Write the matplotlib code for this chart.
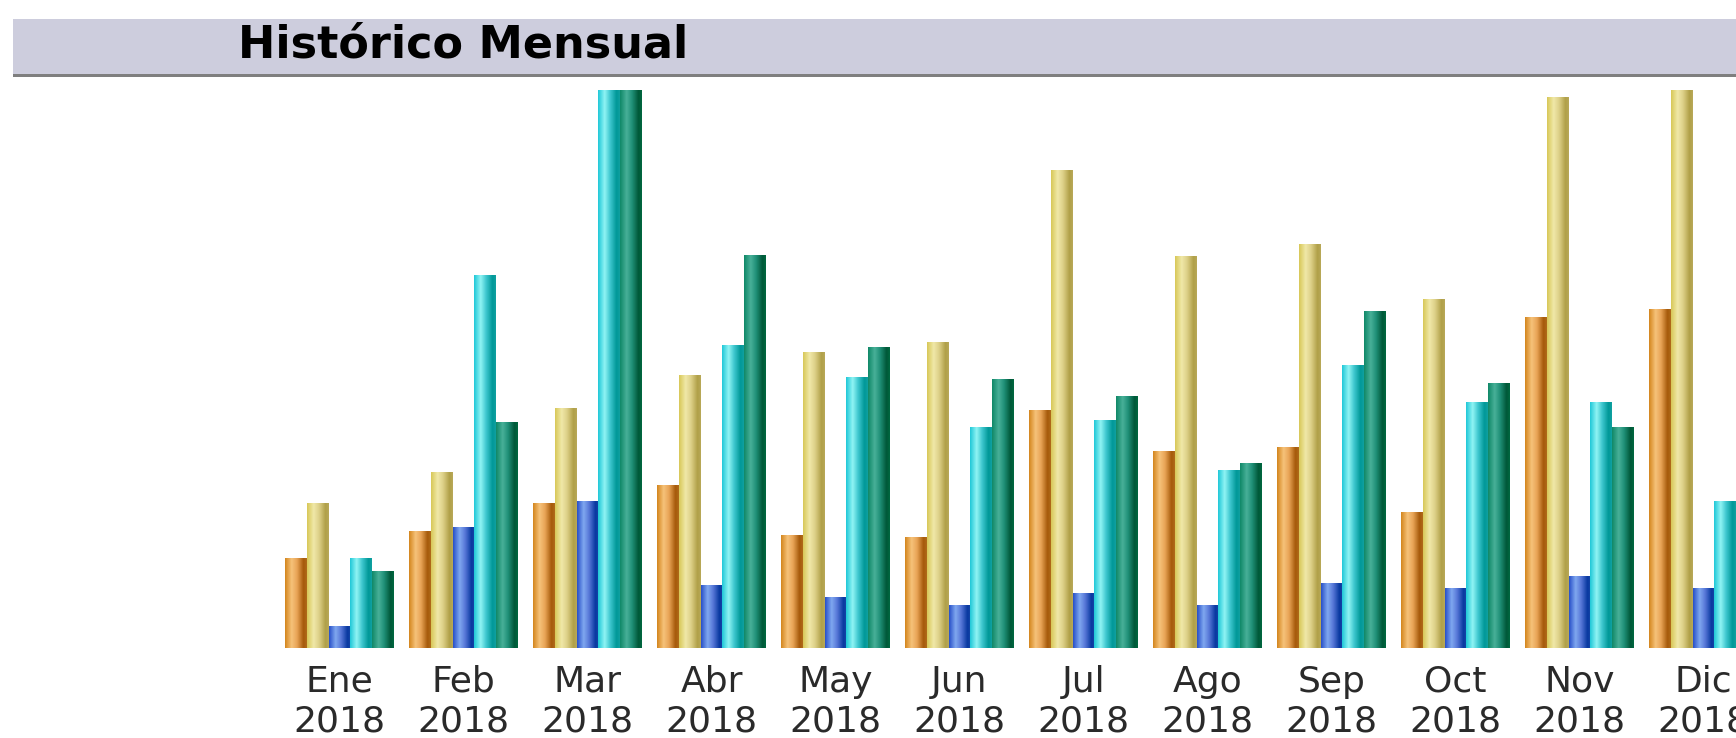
import matplotlib
matplotlib.use("Agg")
import matplotlib.pyplot as plt
from matplotlib.colors import LinearSegmentedColormap
from matplotlib.patches import Rectangle
import numpy as np

# ── Data ──────────────────────────────────────────────────────────────────
months = ["Ene", "Feb", "Mar", "Abr", "May", "Jun",
          "Jul", "Ago", "Sep", "Oct", "Nov", "Dic"]
year = "2018"
s_orange = [81, 106, 131, 147, 102, 100, 215, 178, 182, 123, 299, 306]
s_yellow = [131, 159, 217, 247, 267, 276, 432, 354, 365, 315, 498, 504]
s_blue   = [20, 109, 133, 57, 46, 39, 50, 39, 59, 54, 65, 54]
s_cyan   = [81, 337, 504, 274, 245, 200, 206, 161, 256, 222, 222, 133]
s_green  = [70, 204, 504, 355, 272, 243, 228, 167, 304, 239, 200, 120]
series = [s_orange, s_yellow, s_blue, s_cyan, s_green]

# cylinder-like horizontal gradients for each series
GRADS = [
    ["#d4861e", "#f6c27a", "#e8a456", "#a65a0a", "#b06a1a"],
    ["#d8c858", "#f0e8a8", "#ddd088", "#b0a048", "#b8a858"],
    ["#2850c8", "#80a8f0", "#5878d8", "#0838a0", "#1848a8"],
    ["#20c8d8", "#90f4f4", "#40c8d0", "#009898", "#10a0a0"],
    ["#108868", "#48b098", "#209078", "#005838", "#006840"],
]
STOPS = [0.0, 0.3, 0.55, 0.85, 1.0]

W, H = 1736, 738
fig = plt.figure(figsize=(W / 100, H / 100), dpi=100)
fig.patch.set_facecolor("white")

# ── Title bar ─────────────────────────────────────────────────────────────
fig.add_artist(Rectangle((13 / W, 1 - 75 / H), 1 - 13 / W, 56 / H,
                         transform=fig.transFigure, facecolor="#cdcddd",
                         edgecolor="none", zorder=1))
fig.add_artist(Rectangle((13 / W, 1 - 77 / H), 1 - 13 / W, 3 / H,
                         transform=fig.transFigure, facecolor="#7f7f7f",
                         edgecolor="none", zorder=2))
fig.text(238 / W, 1 - 45 / H, "Histórico Mensual", fontsize=32,
         fontweight="bold", color="black", ha="left", va="center")

# ── Bars ──────────────────────────────────────────────────────────────────
base_px, top_px, center0, spacing = 648, 80, 339.5, 124.0
ax = fig.add_axes([0, (H - base_px) / H, 1, (base_px - top_px) / H])
ax.axis("off")

x = np.arange(len(months))
bw = 21.8 / spacing
n = len(series)
grad_x = np.linspace(0, 1, 64)[None, :]
for k, vals in enumerate(series):
    cmap = LinearSegmentedColormap.from_list(
        f"g{k}", list(zip(STOPS, GRADS[k])))
    offs = (k - (n - 1) / 2) * bw
    bars = ax.bar(x + offs, vals, width=bw, color="none", edgecolor="none")
    for b in bars:
        x0, y0 = b.get_x(), b.get_y()
        im = ax.imshow(grad_x, cmap=cmap, aspect="auto",
                       extent=[x0, x0 + b.get_width(), y0, y0 + b.get_height()],
                       interpolation="bilinear", zorder=2)
        im.set_clip_path(b)

ax.set_xlim(-center0 / spacing, (W - center0) / spacing)
ax.set_ylim(0, (base_px - top_px) / 1.1071)

for i, m in enumerate(months):
    ax.text(i, -15, f"{m}\n{year}", ha="center", va="top", fontsize=26,
            color="#2a2a2a", linespacing=1.22, clip_on=False)

fig.savefig("out.png", dpi=100)
